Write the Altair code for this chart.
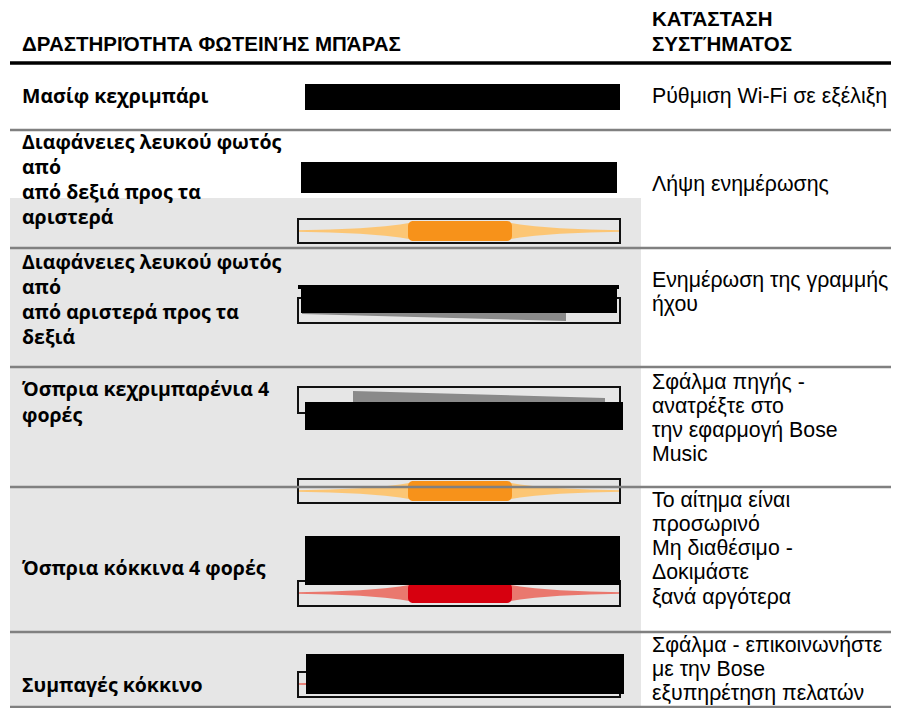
import altair as alt
import pandas as pd

# ---------------- content ----------------
header_left = "ΔΡΑΣΤΗΡΙΌΤΗΤΑ ΦΩΤΕΙΝΉΣ ΜΠΆΡΑΣ"
header_right = ["ΚΑΤΆΣΤΑΣΗ", "ΣΥΣΤΉΜΑΤΟΣ"]

activities = [
    ["Μασίφ κεχριμπάρι"],
    ["Διαφάνειες λευκού φωτός", "από", "από δεξιά προς τα", "αριστερά"],
    ["Διαφάνειες λευκού φωτός", "από", "από αριστερά προς τα", "δεξιά"],
    ["Όσπρια κεχριμπαρένια 4", "φορές"],
    ["Όσπρια κόκκινα 4 φορές"],
    ["Συμπαγές κόκκινο"],
]
statuses = [
    ["Ρύθμιση Wi-Fi σε εξέλιξη"],
    ["Λήψη ενημέρωσης"],
    ["Ενημέρωση της γραμμής", "ήχου"],
    ["Σφάλμα πηγής -", "ανατρέξτε στο", "την εφαρμογή Bose", "Music"],
    ["Το αίτημα είναι", "προσωρινό", "Μη διαθέσιμο -", "Δοκιμάστε", "ξανά αργότερα"],
    ["Σφάλμα - επικοινωνήστε", "με την Bose", "εξυπηρέτηση πελατών"],
]

# ---------------- layout (page coordinates) ----------------
header_left_base = [51]
header_right_base = [26, 51]
activity_base = [[103], [149, 174, 199, 224], [269, 294, 319, 344], [396, 422], [575], [692]]
status_base = [[103], [191], [287, 311], [389, 413, 437, 461], [507, 531, 555, 579, 604], [652, 676, 700]]
col_left_x = 22
col_right_x = 652

row_lines_y = [130, 248, 367, 487, 632, 707]
header_line_y = 63

shade_box = dict(x1=10, x2=641, y1=198, y2=708)

redact_x1 = [305, 301, 298, 301, 305, 305, 306]
redact_x2 = [620, 617, 619, 617, 623, 620, 624]
redact_y1 = [84, 162, 285, 288, 402, 536, 654]
redact_y2 = [110, 193, 289, 313, 430, 585, 694]

box_y1 = [219, 298, 387, 479, 581, 672]
box_y2 = [243, 323, 413, 503, 606, 697]
box_x1, box_x2 = 298, 620

lens_center = [231, 491, 593, 684]
lens_dark = ["#f7921a", "#f7921a", "#d7000f", "#d7000f"]
lens_light = ["#fcc675", "#fcc675", "#ea786e", "#ea786e"]
taper_x = [297, 330, 360, 385, 400, 409, 511, 520, 535, 560, 590, 621]
taper_half = [0.8, 1.4, 2.8, 4.8, 6.6, 8.0, 8.0, 6.6, 4.8, 2.8, 1.4, 0.8]
core_x1, core_x2, core_half = 408, 512, 10

wedge_id = ["w1", "w1", "w2", "w2"]
wedge_x = [302, 566, 353, 605]
wedge_top = [311, 311, 391, 398]
wedge_bot = [314, 321, 404, 404]

# ---------------- scales ----------------
W, H = 883, 700
xs = alt.Scale(domain=[8, 8 + W], nice=False, zero=False)
ys = alt.Scale(domain=[8, 8 + H], nice=False, zero=False, reverse=True)


def X(f):
    return alt.X(f, type="quantitative", scale=xs, axis=None)


def Y(f):
    return alt.Y(f, type="quantitative", scale=ys, axis=None)


# ---------------- layers ----------------
shade = alt.Chart(pd.DataFrame([shade_box])).mark_rect(color="#e6e6e6").encode(
    x=X("x1"), x2="x2", y=Y("y1"), y2="y2"
)

lens_rows = []
for i, c in enumerate(lens_center):
    for xv, h in zip(taper_x, taper_half):
        lens_rows.append(dict(id=f"l{i}", x=xv, y1=c - h, y2=c + h, col=lens_light[i]))
lens_light_layer = alt.Chart(pd.DataFrame(lens_rows)).mark_area().encode(
    x=X("x"), y=Y("y1"), y2="y2", detail="id:N",
    color=alt.Color("col:N", scale=None),
)

core_rows = [dict(x1=core_x1, x2=core_x2, y1=c - core_half, y2=c + core_half, col=lens_dark[i])
             for i, c in enumerate(lens_center)]
lens_core_layer = alt.Chart(pd.DataFrame(core_rows)).mark_rect(cornerRadius=5).encode(
    x=X("x1"), x2="x2", y=Y("y1"), y2="y2",
    color=alt.Color("col:N", scale=None),
)

wedges = alt.Chart(pd.DataFrame(dict(id=wedge_id, x=wedge_x, y1=wedge_top, y2=wedge_bot))).mark_area(
    color="#8a8a8a"
).encode(x=X("x"), y=Y("y1"), y2="y2", detail="id:N")

boxes = alt.Chart(pd.DataFrame(dict(x1=[box_x1] * len(box_y1), x2=[box_x2] * len(box_y1),
                                    y1=box_y1, y2=box_y2))).mark_rect(
    fillOpacity=0, stroke="#111111", strokeWidth=2
).encode(x=X("x1"), x2="x2", y=Y("y1"), y2="y2")

redacts = alt.Chart(pd.DataFrame(dict(x1=redact_x1, x2=redact_x2, y1=redact_y1, y2=redact_y2))).mark_rect(
    color="#000000"
).encode(x=X("x1"), x2="x2", y=Y("y1"), y2="y2")

seps = alt.Chart(pd.DataFrame(dict(x1=[10] * len(row_lines_y), x2=[891] * len(row_lines_y),
                                   y=row_lines_y))).mark_rule(
    color="#808080", strokeWidth=2.5
).encode(x=X("x1"), x2="x2", y=Y("y"))

head_line = alt.Chart(pd.DataFrame(dict(x1=[10], x2=[891], y=[header_line_y]))).mark_rule(
    color="#000000", strokeWidth=3.5
).encode(x=X("x1"), x2="x2", y=Y("y"))

ARIAL = "Liberation Sans, Arial, Helvetica, sans-serif"
HUMAN = "Open Sans, Noto Sans, sans-serif"

head_rows = [dict(x=col_left_x, y=header_left_base[0], t=header_left)]
head_rows += [dict(x=col_right_x, y=b, t=t) for t, b in zip(header_right, header_right_base)]
head_text = alt.Chart(pd.DataFrame(head_rows)).mark_text(
    align="left", baseline="alphabetic", font=ARIAL, fontSize=20.5, fontWeight="bold", color="#000000"
).encode(x=X("x"), y=Y("y"), text="t:N")

act_rows = []
for lines, bases in zip(activities, activity_base):
    for t, b in zip(lines, bases):
        act_rows.append(dict(x=col_left_x, y=b, t=t))
act_text = alt.Chart(pd.DataFrame(act_rows)).mark_text(
    align="left", baseline="alphabetic", font=HUMAN, fontSize=19.5, fontWeight="bold", color="#000000"
).encode(x=X("x"), y=Y("y"), text="t:N")

st_rows = []
for lines, bases in zip(statuses, status_base):
    for t, b in zip(lines, bases):
        st_rows.append(dict(x=col_right_x, y=b, t=t))
st_text = alt.Chart(pd.DataFrame(st_rows)).mark_text(
    align="left", baseline="alphabetic", font=ARIAL, fontSize=21.3, color="#000000"
).encode(x=X("x"), y=Y("y"), text="t:N")

chart = alt.layer(
    shade, lens_light_layer, lens_core_layer, wedges, boxes, seps, head_line, redacts,
    head_text, act_text, st_text,
).properties(
    width=W, height=H, padding=0, autosize=alt.AutoSizeParams(type="none"),
    background="#ffffff",
).configure_view(strokeWidth=0)

chart.save("out.html", embed_options={"renderer": "svg", "actions": False})
